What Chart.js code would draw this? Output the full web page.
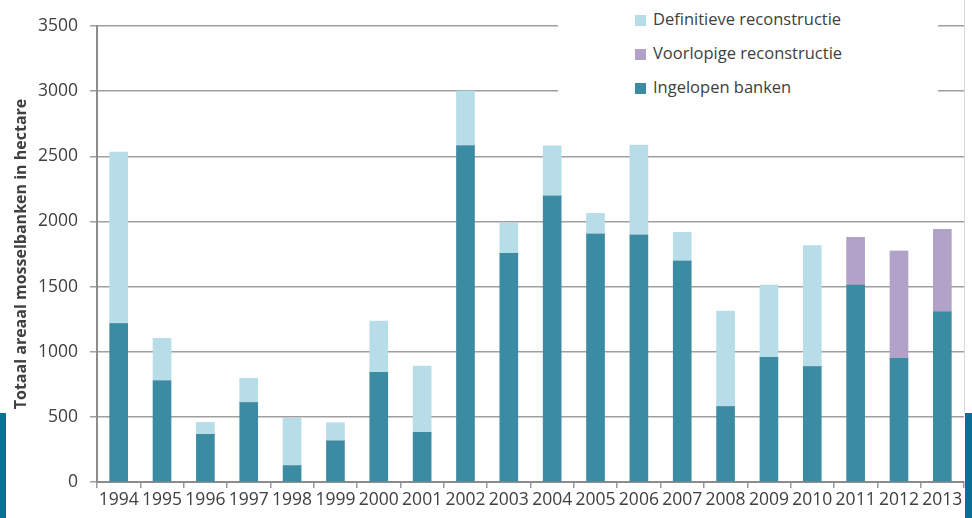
<!DOCTYPE html>
<html>
<head>
<meta charset="utf-8">
<script src="https://cdn.jsdelivr.net/npm/chart.js@4"></script>
<style>
  html, body { margin: 0; padding: 0; background: #fff; }
  #wrap { position: relative; width: 972px; height: 518px; overflow: hidden; }
  #legend { position: absolute; left: 558px; top: 0; width: 380px; height: 106px; background: #fff;
            font-family: 'Open Sans', sans-serif; font-size: 16.5px; color: #404040; }
  #legend div { position: absolute; left: 77px; height: 20px; line-height: 20px; white-space: nowrap; }
  #legend span { display: inline-block; width: 11px; height: 11px; margin-right: 7px; vertical-align: -1px; }
  .strip { position: absolute; top: 413px; height: 105px; background: #0b6e95; }
  #rline { position: absolute; left: 964px; top: 0; width: 1px; height: 413px; background: #d9d9d9; }
</style>
</head>
<body>
<div id="wrap">
  <canvas id="chart" width="972" height="518"></canvas>
  <div id="legend"></div>
  <div id="rline"></div>
  <div class="strip" style="left:0;width:6px"></div>
  <div class="strip" style="left:965px;width:7px"></div>
</div>
<script>
var years = ['1994','1995','1996','1997','1998','1999','2000','2001','2002','2003','2004','2005','2006','2007','2008','2009','2010','2011','2012','2013'];
var ingelopen = [1215, 777, 366, 609, 125, 315, 842, 381, 2581, 1755, 2195, 1903, 1896, 1696, 578, 957, 885, 1512, 949, 1307];
var definitief = [1318, 326, 92, 187, 364, 140, 394, 509, 419, 230, 386, 159, 690, 220, 734, 555, 929, 0, 0, 0];
var voorlopig = [0, 0, 0, 0, 0, 0, 0, 0, 0, 0, 0, 0, 0, 0, 0, 0, 0, 366, 824, 632];
var yTicks = [0, 500, 1000, 1500, 2000, 2500, 3000, 3500];

var names = ['Ingelopen banken', 'Voorlopige reconstructie', 'Definitieve reconstructie'];
var colors = ['#3b8ba3', '#b2a2c8', '#b6dde8'];

var ctx = document.getElementById('chart').getContext('2d');
var chart = new Chart(ctx, {
  type: 'bar',
  data: {
    labels: years,
    datasets: [
      { label: names[0], data: ingelopen, backgroundColor: colors[0] },
      { label: names[1], data: voorlopig, backgroundColor: colors[1] },
      { label: names[2], data: definitief, backgroundColor: colors[2] }
    ]
  },
  options: {
    responsive: false,
    animation: false,
    layout: { padding: { top: 26, right: 8, left: 0, bottom: 0 } },
    datasets: { bar: { barThickness: 18 } },
    plugins: { legend: { display: false }, tooltip: { enabled: false } },
    scales: {
      x: {
        stacked: true,
        grid: { drawOnChartArea: false, drawTicks: true, tickLength: 6, color: '#9a9a9a', lineWidth: 1.5 },
        border: { color: '#8c8c8c', width: 2 },
        ticks: { autoSkip: false, maxRotation: 0, padding: 2, color: '#404040',
                 font: { family: 'Open Sans', size: 17.5 } },
        afterFit: function (s) { s.height = 36; }
      },
      y: {
        stacked: true,
        min: 0, max: 3500,
        afterBuildTicks: function (s) { s.ticks = yTicks.map(function (v) { return { value: v }; }); },
        grid: { color: '#9f9f9f', lineWidth: 1.5, tickLength: 7 },
        border: { color: '#8c8c8c', width: 2 },
        ticks: { padding: 12, color: '#404040', font: { family: 'Open Sans', size: 17.5 },
                 callback: function (v) { return String(v); } },
        title: { display: true, text: 'Totaal areaal mosselbanken in hectare', color: '#404040',
                 padding: { top: 12, bottom: 0 },
                 font: { family: 'Open Sans', size: 16, weight: 'bold' } },
        afterFit: function (s) { s.width = 97; }
      }
    }
  }
});

// legend in the order of the original (top of stack first)
var lg = document.getElementById('legend');
var order = [2, 1, 0];
var rowsY = [9, 43, 77];
order.forEach(function (k, i) {
  var d = document.createElement('div');
  d.style.top = rowsY[i] + 'px';
  d.innerHTML = '<span style="background:' + colors[k] + '"></span>' + names[k];
  lg.appendChild(d);
});
</script>
</body>
</html>
